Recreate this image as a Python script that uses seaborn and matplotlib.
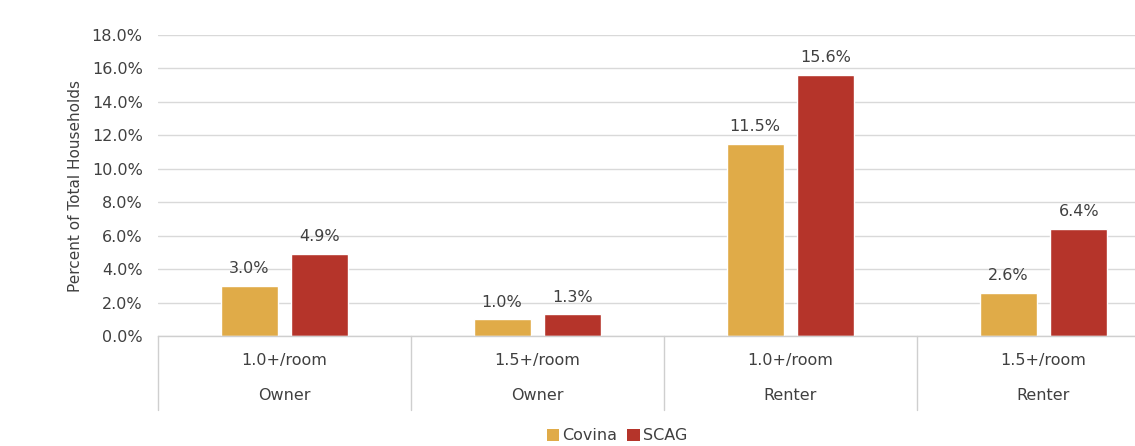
import matplotlib
matplotlib.use("Agg")
import matplotlib.pyplot as plt
import matplotlib.transforms as mtransforms
from matplotlib.patches import Patch
import pandas as pd
import seaborn as sns

# Overcrowding rates by tenure and persons per room
categories = ["1.0+/room Owner", "1.5+/room Owner", "1.0+/room Renter", "1.5+/room Renter"]
density_labels = ["1.0+/room", "1.5+/room", "1.0+/room", "1.5+/room"]
tenure_labels = ["Owner", "Owner", "Renter", "Renter"]
series_names = ["Covina", "SCAG"]
covina_values = [3.0, 1.0, 11.5, 2.6]
scag_values = [4.9, 1.3, 15.6, 6.4]
y_ticks = [0, 2, 4, 6, 8, 10, 12, 14, 16, 18]
y_label = "Percent of Total Households"

colors = ["#E0AB48", "#B5342A"]
text_color = "#404040"

df = pd.DataFrame({
    "category": categories * 2,
    "series": [series_names[0]] * 4 + [series_names[1]] * 4,
    "value": covina_values + scag_values,
})

sns.set_theme(style="white")
plt.rcParams["font.family"] = ["DejaVu Sans"]

W, H = 1135, 446
fig = plt.figure(figsize=(W / 100, H / 100), dpi=100)
left_px, right_px, top_px, bottom_px = 158, 1135, 35, 336
ax = fig.add_axes([left_px / W, 1 - bottom_px / H,
                   (right_px - left_px) / W, (bottom_px - top_px) / H])

sns.barplot(data=df, x="category", y="value", hue="series",
            order=categories, hue_order=series_names, palette=colors,
            width=0.561, gap=0.197, saturation=1, legend=False, ax=ax)

group_px = 253
ax.set_xlim(-0.5, -0.5 + (right_px - left_px) / group_px)
ax.set_ylim(0, 18)
ax.set_yticks(y_ticks)
ax.set_yticklabels([f"{t:.1f}%" for t in y_ticks], color=text_color, fontsize=11.5)
ax.tick_params(axis="y", length=0, pad=11)
ax.set_xticks([])
ax.set_xlabel("")
ax.set_ylabel(y_label, color=text_color, fontsize=11, labelpad=6)

ax.grid(axis="y", color="#D9D9D9", linewidth=1)
ax.set_axisbelow(True)
for side in ["top", "right", "left"]:
    ax.spines[side].set_visible(False)
ax.spines["bottom"].set_color("#CFCFCF")
ax.spines["bottom"].set_linewidth(1)

for container, vals in zip(ax.containers, [covina_values, scag_values]):
    ax.bar_label(container, labels=[f"{v:.1f}%" for v in vals], padding=7,
                 color=text_color, fontsize=11.5)

# Category table beneath the axis
trans = mtransforms.blended_transform_factory(ax.transData, ax.transAxes)
axis_h = bottom_px - top_px
row1_y = -(361 - bottom_px) / axis_h
row2_y = -(396 - bottom_px) / axis_h
sep_bottom = -(410 - bottom_px) / axis_h
for i, (d, t) in enumerate(zip(density_labels, tenure_labels)):
    ax.text(i, row1_y, d, transform=trans, ha="center", va="center",
            color=text_color, fontsize=11.5, clip_on=False)
    ax.text(i, row2_y, t, transform=trans, ha="center", va="center",
            color=text_color, fontsize=11.5, clip_on=False)
for i in range(len(categories) + 1):
    ax.plot([i - 0.5, i - 0.5], [0, sep_bottom], transform=trans,
            color="#CFCFCF", linewidth=1, clip_on=False)

handles = [Patch(facecolor=c, edgecolor="none") for c in colors]
fig.legend(handles, series_names, loc="center", bbox_to_anchor=(617 / W, 1 - 436 / H),
           ncol=2, frameon=False, fontsize=11.5, handlelength=0.8, handleheight=0.8,
           handletextpad=0.2, columnspacing=0.6, labelcolor=text_color)

fig.savefig("out.png", dpi=100, facecolor="white")
